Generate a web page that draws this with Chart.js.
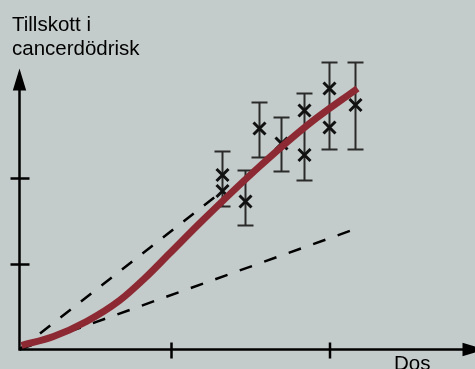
<!DOCTYPE html>
<html>
<head>
<meta charset="utf-8">
<script src="https://cdn.jsdelivr.net/npm/chart.js@4"></script>
<style>
  html, body { margin: 0; padding: 0; background: #c4cccb; }
  #wrap { position: relative; width: 475px; height: 369px; }
</style>
</head>
<body>
<div id="wrap"><canvas id="riskChart"></canvas></div>
<script>
// units: dose along x, added risk along y (origin at the axes corner)
const curveX = [2, 34, 67, 100, 125, 150, 183, 240, 290, 338];
const curveY = [4, 13, 28, 49, 71, 96, 129, 183, 226, 261];

const upperDashX = [0, 205];
const upperDashY = [0, 160];
const lowerDashX = [0, 338.5];
const lowerDashY = [0, 121.5];

const markX = [203, 203, 226, 240, 262, 285, 285, 310, 310, 336];
const markY = [174.5, 158.5, 148, 221, 206, 239, 194.5, 261, 222, 244.5];

const errX = [203, 226, 240, 262, 285, 310, 336];
const errLow = [143, 124, 192, 178, 169, 200, 200];
const errHigh = [198, 179, 247, 232, 256, 287, 287];

const xTicks = [152, 310.5];
const yTicks = [85, 171];
const xArrowTip = 465;
const yArrowTip = 281;

const yTitle = ['Tillskott i', 'cancerdödrisk'];
const xTitle = 'Dos';

const toPoints = (xs, ys) => xs.map((v, i) => ({ x: v, y: ys[i] }));

// axes, arrows, tick marks and the two labels
const axesPlugin = {
  id: 'axesPlugin',
  beforeDatasetsDraw(chart) {
    const { ctx, scales: { x, y } } = chart;
    const x0 = x.getPixelForValue(0);
    const y0 = y.getPixelForValue(0);
    const xt = x.getPixelForValue(xArrowTip);
    const yt = y.getPixelForValue(yArrowTip);
    ctx.save();
    ctx.strokeStyle = '#000';
    ctx.fillStyle = '#000';
    ctx.lineWidth = 2.5;
    ctx.beginPath();
    ctx.moveTo(x0, y0 + 1);
    ctx.lineTo(x0, yt + 10);
    ctx.moveTo(x0 - 1, y0);
    ctx.lineTo(xt - 10, y0);
    yTicks.forEach(v => {
      const p = y.getPixelForValue(v);
      ctx.moveTo(x0 - 9, p);
      ctx.lineTo(x0 + 10, p);
    });
    xTicks.forEach(v => {
      const p = x.getPixelForValue(v);
      ctx.moveTo(p, y0 - 7);
      ctx.lineTo(p, y0 + 9);
    });
    ctx.stroke();

    // arrow heads
    ctx.beginPath();
    ctx.moveTo(x0, yt);
    ctx.lineTo(x0 - 6.7, yt + 22);
    ctx.lineTo(x0 + 6.7, yt + 22);
    ctx.closePath();
    ctx.moveTo(xt, y0);
    ctx.lineTo(xt - 22, y0 - 6.7);
    ctx.lineTo(xt - 22, y0 + 6.7);
    ctx.closePath();
    ctx.fill();

    ctx.font = '20.5px "Liberation Sans", Arial, sans-serif';
    ctx.textBaseline = 'alphabetic';
    ctx.textAlign = 'left';
    ctx.fillText(yTitle[0], 12, 30.5);
    ctx.fillText(yTitle[1], 12, 55);
    ctx.fillText(xTitle, 394, 370);

    // error bars
    ctx.strokeStyle = '#2a2a2a';
    ctx.lineWidth = 2;
    ctx.beginPath();
    errX.forEach((v, i) => {
      const px = x.getPixelForValue(v);
      const lo = y.getPixelForValue(errLow[i]);
      const hi = y.getPixelForValue(errHigh[i]);
      ctx.moveTo(px, lo);
      ctx.lineTo(px, hi);
      ctx.moveTo(px - 8, lo);
      ctx.lineTo(px + 8, lo);
      ctx.moveTo(px - 8, hi);
      ctx.lineTo(px + 8, hi);
    });
    ctx.stroke();
    ctx.restore();
  }
};

new Chart(document.getElementById('riskChart'), {
  type: 'scatter',
  data: {
    datasets: [
      {
        label: 'Risk',
        data: toPoints(curveX, curveY),
        showLine: true,
        borderColor: '#8d2933',
        borderWidth: 7,
        pointRadius: 0,
        cubicInterpolationMode: 'monotone',
        borderCapStyle: 'butt',
        order: 0
      },
      {
        label: 'Observationer',
        data: toPoints(markX, markY),
        pointStyle: 'crossRot',
        pointRadius: 8.5,
        pointBorderWidth: 3,
        borderColor: '#111',
        backgroundColor: '#111',
        order: 1
      },
      {
        label: 'Linjär',
        data: toPoints(upperDashX, upperDashY),
        showLine: true,
        borderColor: '#000',
        borderWidth: 2.5,
        borderDash: [13, 13],
        pointRadius: 0,
        order: 2
      },
      {
        label: 'Linjär låg',
        data: toPoints(lowerDashX, lowerDashY),
        showLine: true,
        borderColor: '#000',
        borderWidth: 2.5,
        borderDash: [13, 13],
        pointRadius: 0,
        order: 2
      }
    ]
  },
  options: {
    responsive: true,
    maintainAspectRatio: false,
    animation: false,
    clip: false,
    layout: { padding: 0, autoPadding: false },
    plugins: {
      legend: { display: false },
      tooltip: { enabled: false }
    },
    scales: {
      x: { type: 'linear', min: -19.5, max: 455.5, display: false },
      y: { type: 'linear', min: -19.5, max: 349.5, display: false }
    }
  },
  plugins: [axesPlugin]
});
</script>
</body>
</html>
